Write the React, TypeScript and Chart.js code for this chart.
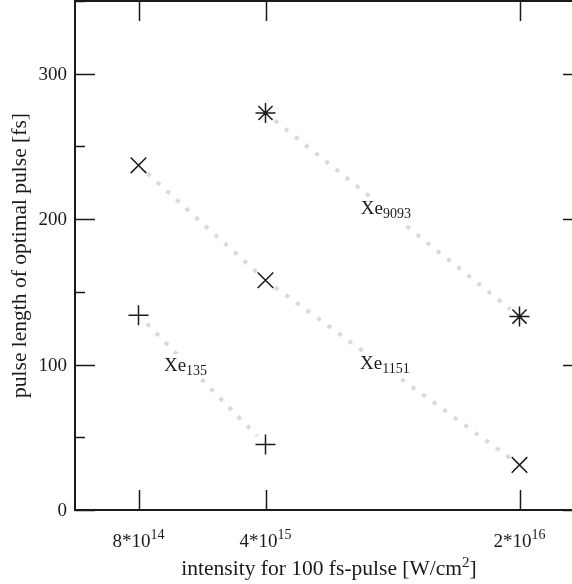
import React, { useEffect, useRef } from 'react';
import { Chart, registerables } from 'chart.js';

Chart.register(...registerables);

// ---- data ----
const categories = ['8*10^14', '4*10^15', '', '2*10^16'];
const tickBases = ['8*10', '4*10', '', '2*10'];
const tickExponents = ['14', '15', '', '16'];
const xe135 = [134, 45, null, null];
const xe1151 = [237, 158, null, 31];
const xe9093 = [null, 273, null, 133];
const seriesSubscripts = ['135', '1151', '9093'];
const yMajorTicks = [0, 100, 200, 300];
const yMinorTicks = [50, 150, 250, 350];
const xTitleMain = 'intensity for 100 fs-pulse [W/cm';
const xTitleSup = '2';
const xTitleEnd = ']';
const yTitle = 'pulse length of optimal pulse [fs]';

// label placement along a segment of each series (fraction t between two category indices)
const labelPlacement = [
  { from: 0, to: 1, t: 0.37, dy: 3 },
  { from: 1, to: 3, t: 0.47, dy: -3 },
  { from: 1, to: 3, t: 0.474, dy: 0 },
];

const FONT = "'Liberation Serif', 'Times New Roman', serif";
const INK = '#1a1a1a';

const decorPlugin = {
  id: 'decor',
  beforeDatasetsDraw(chart: any) {
    const ctx = chart.ctx;
    const x = chart.scales.x;
    const y = chart.scales.y;
    const series = [xe135, xe1151, xe9093];
    ctx.save();
    // dotted connectors
    ctx.strokeStyle = '#d9d9d9';
    ctx.lineWidth = 4;
    ctx.setLineDash([4, 9]);
    ctx.lineCap = 'butt';
    series.forEach((arr) => {
      const pts: { px: number; py: number }[] = [];
      arr.forEach((v, i) => {
        if (v !== null) pts.push({ px: x.getPixelForValue(i), py: y.getPixelForValue(v) });
      });
      for (let k = 0; k < pts.length - 1; k++) {
        const a = pts[k];
        const b = pts[k + 1];
        const dx = b.px - a.px;
        const dyy = b.py - a.py;
        const len = Math.hypot(dx, dyy);
        const trim = 12;
        const ux = dx / len;
        const uy = dyy / len;
        ctx.beginPath();
        ctx.moveTo(a.px + ux * trim, a.py + uy * trim);
        ctx.lineTo(b.px - ux * trim, b.py - uy * trim);
        ctx.stroke();
      }
    });
    ctx.setLineDash([]);
    // labels
    series.forEach((arr, si) => {
      const lp = labelPlacement[si];
      const v0 = arr[lp.from] as number;
      const v1 = arr[lp.to] as number;
      const x0 = x.getPixelForValue(lp.from);
      const x1 = x.getPixelForValue(lp.to);
      const y0 = y.getPixelForValue(v0);
      const y1 = y.getPixelForValue(v1);
      const cx = x0 + (x1 - x0) * lp.t;
      const cy = y0 + (y1 - y0) * lp.t + lp.dy;
      ctx.font = `19px ${FONT}`;
      const wMain = ctx.measureText('Xe').width;
      ctx.font = `14px ${FONT}`;
      const wSub = ctx.measureText(seriesSubscripts[si]).width;
      const total = wMain + wSub;
      const sx = cx - total / 2;
      ctx.fillStyle = '#ffffff';
      ctx.fillRect(sx - 3, cy - 12, total + 6, 24);
      ctx.fillStyle = INK;
      ctx.textBaseline = 'alphabetic';
      ctx.textAlign = 'left';
      ctx.font = `19px ${FONT}`;
      ctx.fillText('Xe', sx, cy + 5);
      ctx.font = `14px ${FONT}`;
      ctx.fillText(seriesSubscripts[si], sx + wMain, cy + 9);
    });
    ctx.restore();
  },
  afterDraw(chart: any) {
    const ctx = chart.ctx;
    const x = chart.scales.x;
    const y = chart.scales.y;
    const { left, right, top, bottom } = chart.chartArea;
    ctx.save();
    ctx.strokeStyle = INK;
    ctx.lineWidth = 2;
    ctx.strokeRect(left, top, right - left, bottom - top);
    ctx.lineWidth = 1.5;
    ctx.beginPath();
    categories.forEach((c, i) => {
      if (!c) return;
      const px = Math.round(x.getPixelForValue(i)) + 0.5;
      ctx.moveTo(px, bottom);
      ctx.lineTo(px, bottom - 20);
      ctx.moveTo(px, top);
      ctx.lineTo(px, top + 20);
    });
    yMajorTicks.forEach((v) => {
      const py = Math.round(y.getPixelForValue(v)) + 0.5;
      ctx.moveTo(left, py);
      ctx.lineTo(left + 20, py);
      ctx.moveTo(right, py);
      ctx.lineTo(right - 20, py);
    });
    yMinorTicks.forEach((v) => {
      const py = Math.round(y.getPixelForValue(v)) + 0.5;
      ctx.moveTo(left, py);
      ctx.lineTo(left + 10, py);
      ctx.moveTo(right, py);
      ctx.lineTo(right - 10, py);
    });
    ctx.stroke();

    ctx.fillStyle = INK;

    // y tick labels
    ctx.font = `19px ${FONT}`;
    ctx.textAlign = 'right';
    ctx.textBaseline = 'middle';
    yMajorTicks.forEach((v) => {
      ctx.fillText(String(v), left - 8, y.getPixelForValue(v) + 1);
    });

    // x tick labels with superscripts
    ctx.textAlign = 'left';
    ctx.textBaseline = 'alphabetic';
    categories.forEach((c, i) => {
      if (!c) return;
      const px = x.getPixelForValue(i);
      ctx.font = `19px ${FONT}`;
      const wb = ctx.measureText(tickBases[i]).width;
      ctx.font = `14px ${FONT}`;
      const we = ctx.measureText(tickExponents[i]).width;
      const sx = px - (wb + we) / 2;
      ctx.font = `19px ${FONT}`;
      ctx.fillText(tickBases[i], sx, bottom + 37);
      ctx.font = `14px ${FONT}`;
      ctx.fillText(tickExponents[i], sx + wb, bottom + 29);
    });

    // x title
    ctx.font = `21.5px ${FONT}`;
    const w1 = ctx.measureText(xTitleMain).width;
    const w3 = ctx.measureText(xTitleEnd).width;
    ctx.font = `15px ${FONT}`;
    const w2 = ctx.measureText(xTitleSup).width;
    const tx = (left + right) / 2 - (w1 + w2 + w3) / 2;
    ctx.font = `21.5px ${FONT}`;
    ctx.fillText(xTitleMain, tx, bottom + 65);
    ctx.fillText(xTitleEnd, tx + w1 + w2, bottom + 65);
    ctx.font = `15px ${FONT}`;
    ctx.fillText(xTitleSup, tx + w1, bottom + 57);

    // y title
    ctx.save();
    ctx.translate(20, (top + bottom) / 2);
    ctx.rotate(-Math.PI / 2);
    ctx.font = `21.5px ${FONT}`;
    ctx.textAlign = 'center';
    ctx.textBaseline = 'middle';
    ctx.fillText(yTitle, 0, 0);
    ctx.restore();

    ctx.restore();
  },
};

export default function App() {
  const ref = useRef<HTMLCanvasElement | null>(null);
  useEffect(() => {
    if (!ref.current) return;
    const mk = (data: (number | null)[], style: string, r: number) => ({
      data,
      showLine: false,
      pointStyle: style,
      pointRadius: r,
      pointHoverRadius: r,
      pointBorderWidth: 1.5,
      pointBorderColor: INK,
      pointBackgroundColor: INK,
      borderColor: INK,
    });
    const chart = new Chart(ref.current, {
      type: 'line',
      data: {
        labels: categories,
        datasets: [mk(xe135, 'cross', 10), mk(xe1151, 'crossRot', 11), mk(xe9093, 'star', 10)],
      },
      options: {
        animation: false,
        responsive: false,
        events: [],
        layout: { autoPadding: false, padding: { top: 1, right: 17, left: 0, bottom: 0 } },
        plugins: { legend: { display: false }, tooltip: { enabled: false }, title: { display: false } },
        scales: {
          x: {
            type: 'category',
            offset: true,
            grid: { display: false, drawTicks: false },
            border: { display: false },
            ticks: { display: false },
            afterFit: (s: any) => {
              s.height = 74;
            },
          },
          y: {
            type: 'linear',
            min: 0,
            max: 350,
            grid: { display: false, drawTicks: false },
            border: { display: false },
            ticks: { display: false },
            afterFit: (s: any) => {
              s.width = 75;
            },
          },
        },
      },
      plugins: [decorPlugin],
    });
    return () => chart.destroy();
  }, []);
  return (
    <div style={{ position: 'fixed', left: 0, top: 0, width: 572, height: 584, overflow: 'hidden', background: '#fff' }}>
      <canvas ref={ref} width={600} height={584} style={{ display: 'block' }} />
    </div>
  );
}
